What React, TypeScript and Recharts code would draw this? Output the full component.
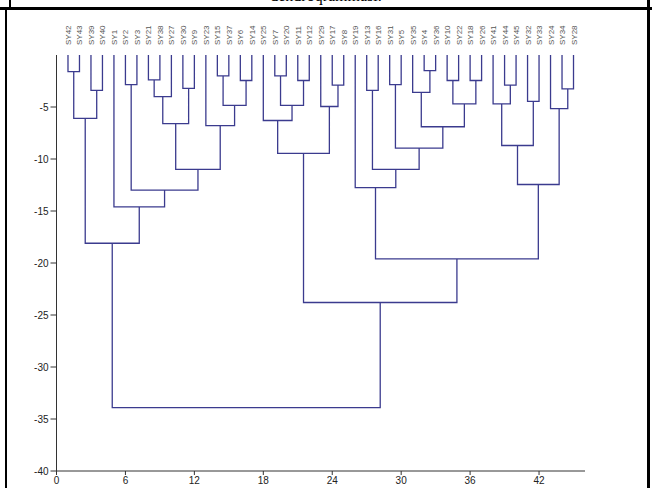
import { LineChart, Line, XAxis, YAxis } from 'recharts';

// leaf order along the x axis (position 1..45)
const LEAVES = [
  'SY42', 'SY43', 'SY39', 'SY40', 'SY1', 'SY2', 'SY3', 'SY21', 'SY38', 'SY27',
  'SY30', 'SY9', 'SY23', 'SY15', 'SY37', 'SY6', 'SY14', 'SY25', 'SY7', 'SY20',
  'SY11', 'SY12', 'SY29', 'SY17', 'SY8', 'SY19', 'SY13', 'SY16', 'SY31', 'SY5',
  'SY35', 'SY4', 'SY36', 'SY10', 'SY22', 'SY18', 'SY26', 'SY41', 'SY44', 'SY45',
  'SY32', 'SY33', 'SY24', 'SY34', 'SY28',
];

// linkage rows: [left node, right node, merge height]
// node ids < 45 are leaves, id 45 + k is the k-th row below
const LINKAGE: [number, number, number][] = [
  [0, 1, -1.6], // 45
  [2, 3, -3.4], // 46
  [45, 46, -6.1], // 47
  [5, 6, -2.85], // 48
  [7, 8, -2.4], // 49
  [49, 9, -4.0], // 50
  [10, 11, -3.2], // 51
  [50, 51, -6.6], // 52
  [13, 14, -2.0], // 53
  [15, 16, -2.45], // 54
  [53, 54, -4.85], // 55
  [12, 55, -6.8], // 56
  [52, 56, -11.0], // 57
  [48, 57, -13.0], // 58
  [4, 58, -14.6], // 59
  [47, 59, -18.1], // 60
  [18, 19, -2.0], // 61
  [20, 21, -2.45], // 62
  [61, 62, -4.85], // 63
  [17, 63, -6.3], // 64
  [23, 24, -2.9], // 65
  [22, 65, -4.95], // 66
  [64, 66, -9.45], // 67
  [26, 27, -3.4], // 68
  [28, 29, -2.85], // 69
  [31, 32, -1.5], // 70
  [30, 70, -3.6], // 71
  [33, 34, -2.45], // 72
  [35, 36, -2.45], // 73
  [72, 73, -4.7], // 74
  [71, 74, -6.9], // 75
  [69, 75, -8.95], // 76
  [68, 76, -11.0], // 77
  [25, 77, -12.75], // 78
  [38, 39, -2.9], // 79
  [37, 79, -4.7], // 80
  [40, 41, -4.45], // 81
  [80, 81, -8.7], // 82
  [43, 44, -3.25], // 83
  [42, 83, -5.15], // 84
  [82, 84, -12.45], // 85
  [78, 85, -19.6], // 86
  [67, 86, -23.8], // 87
  [60, 87, -33.9], // 88
];

const X_TICKS = [0, 6, 12, 18, 24, 30, 36, 42];
const Y_TICKS = [-40, -35, -30, -25, -20, -15, -10, -5];

const LINE_COLOR = '#3b3b8e';
const AXIS_COLOR = '#333';

// turn the linkage into one path of U-shaped links, broken by null points
const buildLinks = () => {
  const nodes = LEAVES.map((_, i) => ({ x: i + 1, h: 0 }));
  const points: { x: number; y: number | null }[] = [];
  LINKAGE.forEach(([a, b, h]) => {
    const l = nodes[a];
    const r = nodes[b];
    const mid = (l.x + r.x) / 2;
    points.push(
      { x: l.x, y: l.h },
      { x: l.x, y: h },
      { x: r.x, y: h },
      { x: r.x, y: r.h },
      { x: mid, y: null },
    );
    nodes.push({ x: mid, h });
  });
  return points;
};

const LeafTick = ({ x, payload }: any) => (
  <text
    transform={`translate(${x + 3},45) rotate(-90)`}
    fontSize={8}
    fill="#555"
    fontFamily="Arial, 'Liberation Sans', sans-serif"
  >
    {LEAVES[payload.value - 1]}
  </text>
);

const App = () => {
  const links = buildLinks();

  return (
    <div
      style={{
        position: 'fixed',
        top: 0,
        left: 0,
        width: 652,
        height: 488,
        overflow: 'hidden',
        background: '#fff',
      }}
    >
      {/* cut-off caption from the document cell above */}
      <div
        style={{
          position: 'absolute',
          top: -12,
          left: 0,
          width: 652,
          textAlign: 'center',
          fontFamily: "'Times New Roman', 'Liberation Serif', serif",
          fontSize: 16,
          lineHeight: '16px',
          color: '#000',
        }}
      >
        dendroqramması.
      </div>
      <div style={{ position: 'absolute', left: 0, top: 7, width: 652, height: 3, background: '#000' }} />
      <div style={{ position: 'absolute', left: 5, top: 7, width: 2, height: 481, background: '#000' }} />
      <div style={{ position: 'absolute', left: 9, top: 0, width: 2, height: 8, background: '#000' }} />
      <div style={{ position: 'absolute', left: 647, top: 0, width: 3, height: 488, background: '#000' }} />

      <div style={{ position: 'absolute', left: 0, top: 0 }}>
        <LineChart
          width={652}
          height={488}
          data={links}
          margin={{ top: 25, right: 67, bottom: 0, left: 0 }}
        >
          <XAxis
            xAxisId="top"
            orientation="top"
            dataKey="x"
            type="number"
            domain={[0, 46]}
            ticks={LEAVES.map((_, i) => i + 1)}
            interval={0}
            height={30}
            axisLine={false}
            tickLine={false}
            tick={LeafTick}
          />
          <XAxis
            xAxisId="bottom"
            dataKey="x"
            type="number"
            domain={[0, 46]}
            ticks={X_TICKS}
            interval={0}
            height={17}
            stroke={AXIS_COLOR}
            tickSize={4}
            tickMargin={2}
            tick={{ fontSize: 10, fill: '#222', fontFamily: "Arial, 'Liberation Sans', sans-serif" }}
          />
          <YAxis
            type="number"
            domain={[-40, 0]}
            ticks={Y_TICKS}
            interval={0}
            width={56.5}
            stroke={AXIS_COLOR}
            tickSize={6}
            tickMargin={2}
            tick={{ fontSize: 10, fill: '#222', fontFamily: "Arial, 'Liberation Sans', sans-serif" }}
          />
          <Line
            xAxisId="bottom"
            type="linear"
            dataKey="y"
            stroke={LINE_COLOR}
            strokeWidth={1.3}
            dot={false}
            activeDot={false}
            connectNulls={false}
            isAnimationActive={false}
          />
        </LineChart>
      </div>
    </div>
  );
};

export default App;
